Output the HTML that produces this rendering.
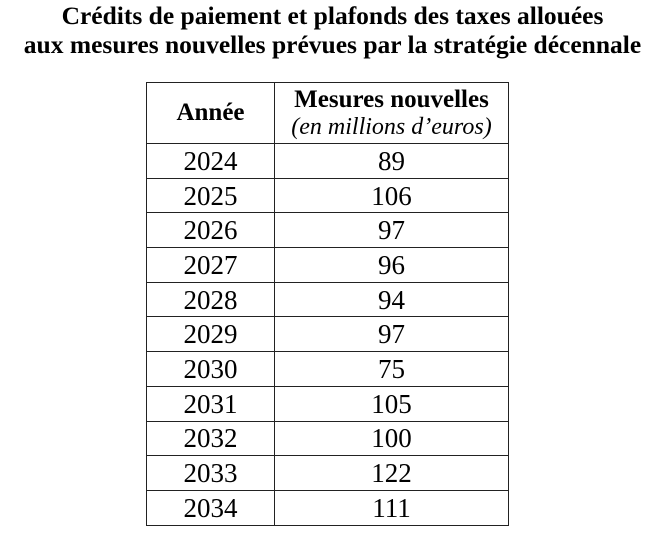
<!DOCTYPE html>
<html><head><style>
body{margin:0;background:#fff;width:665px;height:541px;overflow:hidden;font-family:"Liberation Serif",serif;color:#000}
.t{position:absolute;left:0;width:665px;text-align:center;font-weight:bold;font-size:25.5px;line-height:28px;white-space:nowrap}
table{position:absolute;left:146px;top:82px;border-collapse:collapse}
td{border:1.5px solid #222;text-align:center;font-size:27px;height:33.7px;padding:0;line-height:24px}
th{border:1.5px solid #222;height:60px;padding:0;font-size:25px}
</style></head><body>
<div class="t" style="top:2px">Crédits de paiement et plafonds des taxes allouées</div>
<div class="t" style="top:31px">aux mesures nouvelles prévues par la stratégie décennale</div>
<table>
<tr><th style="width:127px">Année</th><th style="width:233px;line-height:27px">Mesures nouvelles<br><i style="font-weight:normal;font-size:24px">(en millions d’euros)</i></th></tr>
<tr><td>2024</td><td>89</td></tr>
<tr><td>2025</td><td>106</td></tr>
<tr><td>2026</td><td>97</td></tr>
<tr><td>2027</td><td>96</td></tr>
<tr><td>2028</td><td>94</td></tr>
<tr><td>2029</td><td>97</td></tr>
<tr><td>2030</td><td>75</td></tr>
<tr><td>2031</td><td>105</td></tr>
<tr><td>2032</td><td>100</td></tr>
<tr><td>2033</td><td>122</td></tr>
<tr><td>2034</td><td>111</td></tr>
</table>
</body></html>
